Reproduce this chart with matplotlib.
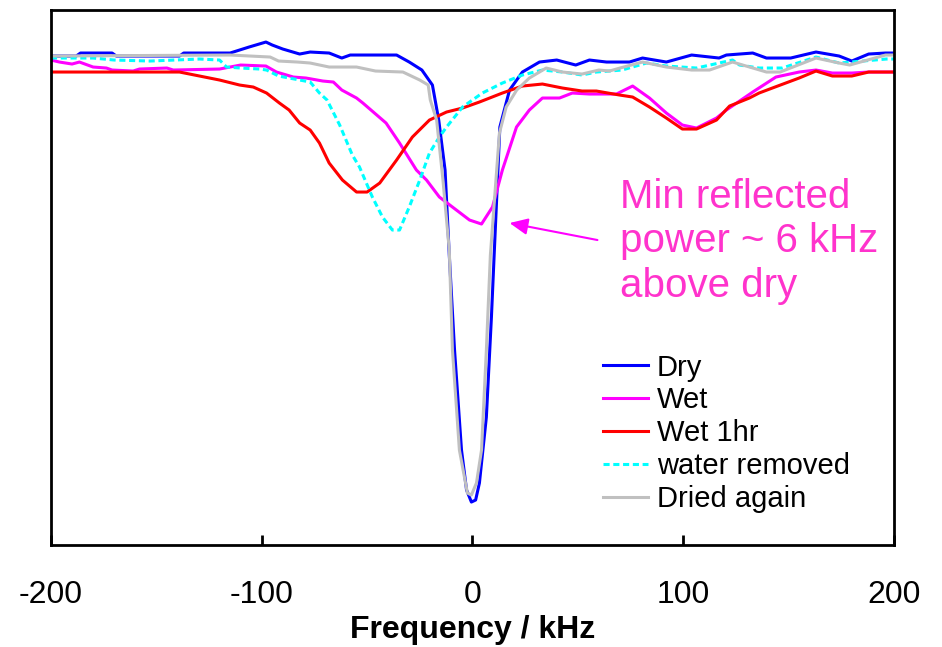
import matplotlib
matplotlib.use("Agg")
import matplotlib.pyplot as plt

plt.rcParams['font.family'] = ['Liberation Sans', 'DejaVu Sans']
plt.rcParams['axes.unicode_minus'] = False

# relative reflected power (arb. units) vs frequency offset (kHz)
dry_f = [-200, -188, -186, -171, -169, -139, -137, -115, -106, -98, -95, -90, -82, -77, -68, -62,
         -58, -36, -30, -24, -19, -16, -13, -11, -8.5, -5.2, -2.8, -0.5, 1.5, 3.3, 6.6, 9, 10.4,
         13, 17.6, 23.7, 31.8, 40, 49, 55.5, 63.6, 70, 74.5, 80.7, 92, 104, 117, 120.5, 133,
         139.5, 151, 163, 174, 180, 188, 196, 200]
dry = [48.9, 48.9, 49.2, 49.2, 48.9, 48.9, 49.2, 49.2, 49.8, 50.3, 50.0, 49.6, 49.1, 49.3, 49.2, 48.7,
       49.0, 49.0, 48.3, 47.5, 46.0, 42.5, 37.5, 29.0, 19.5, 9.5, 5.5, 4.3, 4.5, 6.2, 12.8, 22.8, 29.5,
       41.8, 45.5, 47.3, 48.3, 48.5, 48.0, 48.5, 48.3, 48.3, 48.3, 48.7, 48.3, 49.0, 48.7, 49.0, 49.2,
       48.7, 48.7, 49.3, 48.9, 48.4, 49.1, 49.2, 49.2]

wet_f = [-200, -196, -190, -186.5, -180, -173.7, -171, -161, -158, -145, -142, -120, -110, -98, -93,
         -85, -79, -71, -66, -62, -55, -52, -41, -34.6, -26.6, -21.8, -15.7, -9.5, -1.4, 4.3, 9.5,
         14.2, 20.9, 27, 33.2, 41.3, 47.4, 55.5, 68.3, 76, 84, 92, 99.6, 106.3, 115.8, 120.5, 133,
         144, 155, 163, 170.8, 180, 188, 200]
wet = [48.5, 48.3, 48.1, 48.3, 47.8, 47.7, 47.5, 47.4, 47.6, 47.7, 47.5, 47.6, 48.0, 47.9, 47.3,
       46.8, 46.7, 46.4, 46.3, 45.5, 44.7, 44.2, 42.2, 40.2, 37.5, 36.5, 34.8, 33.8, 32.5, 32.1, 33.8,
       37.5, 41.8, 43.5, 44.7, 44.7, 45.2, 45.1, 45.1, 45.9, 44.7, 43.2, 42.0, 41.7, 42.7, 43.5, 45.3,
       46.8, 47.3, 47.5, 47.2, 47.2, 47.3, 47.3]

wet1_f = [-200, -139, -129.5, -120, -110.5, -104, -97.7, -91.6, -87, -82, -77, -72.6, -68, -61.7,
          -55, -50, -44, -36, -28.5, -20.4, -12.3, -4.7, 3.3, 14.2, 23.7, 33.2, 42.7, 52, 58.8,
          69.8, 76, 84, 92, 99.6, 106.3, 115.8, 122, 131.4, 136, 142.3, 155, 163, 170.8, 180, 188, 200]
wet1 = [47.3, 47.3, 46.9, 46.5, 46.0, 45.8, 45.2, 44.2, 43.5, 42.2, 41.5, 40.2, 38.2, 36.5,
        35.3, 35.3, 36.2, 38.5, 40.8, 42.5, 43.3, 43.7, 44.3, 45.2, 45.9, 46.1, 45.7, 45.4, 45.4,
        45.0, 44.8, 43.8, 42.7, 41.6, 41.6, 42.5, 43.9, 44.7, 45.2, 45.7, 46.7, 47.4, 46.9, 46.9, 47.3, 47.3]

removed_f = [-200, -180, -170, -153, -129.5, -120, -116.7, -110, -101, -97.7, -92, -82, -77, -72.6,
             -69, -63, -60, -57, -53.6, -47.5, -42.7, -38, -34.6, -30, -25, -20.4, -15.7, -12.3,
             -4.7, 4.7, 14.2, 23.7, 33.2, 42.7, 52, 58.8, 71, 82.6, 92, 106.3, 123.4, 126.7, 136,
             147, 163, 174, 196.4, 200]
removed = [48.7, 48.7, 48.5, 48.4, 48.6, 48.5, 47.8, 47.7, 47.6, 47.5, 46.9, 46.5, 46.3, 45.2,
           44.5, 42.0, 40.5, 39.0, 37.8, 34.8, 32.8, 31.5, 31.5, 33.8, 36.5, 39.2, 40.8, 41.8,
           43.8, 45.2, 46.2, 47.0, 47.5, 47.3, 47.0, 47.3, 47.5, 48.2, 47.9, 47.7, 48.5, 48.0, 47.7,
           47.7, 48.8, 48.2, 48.6, 48.6]

dried_f = [-200, -115, -96, -92, -83, -77, -68, -55, -46, -33, -25, -21, -20, -17, -14, -11,
           -9.5, -6.2, -2.4, -0.5, 1.9, 4.3, 6.6, 8.5, 12.8, 16, 21, 27, 35, 42.7, 52, 60, 65, 70,
           80.7, 92, 104, 112.5, 123.4, 139.5, 146, 163, 174, 179, 196, 200]
dried = [48.9, 49.0, 48.8, 48.4, 48.3, 48.2, 47.8, 47.8, 47.4, 47.3, 46.5, 46.0, 44.5, 42.5, 36.5,
         29.5, 19.5, 9.5, 5.2, 5.0, 6.2, 9.5, 19.5, 29.0, 41.2, 43.8, 45.5, 46.7, 47.7, 47.3,
         47.1, 47.5, 47.4, 47.7, 48.3, 47.8, 47.5, 47.5, 48.3, 47.3, 47.3, 48.7, 48.2, 48.0, 49.0, 49.0]

fig = plt.figure(figsize=(9.42, 6.47), dpi=100)
ax = fig.add_axes([0.0541, 0.1576, 0.8949, 0.8269])

lw = 2.2
ax.plot(dry_f, dry, color='#0000FF', lw=lw, label='Dry')
ax.plot(wet_f, wet, color='#FF00FF', lw=lw, label='Wet')
ax.plot(wet1_f, wet1, color='#FF0000', lw=lw, label='Wet 1hr')
ax.plot(removed_f, removed, color='#00FFFF', lw=lw, ls=(0, (2, 1.2)), label='water removed')
ax.plot(dried_f, dried, color='#C0C0C0', lw=lw, label='Dried again')

ax.set_xlim(-200, 200)
ax.set_ylim(0, 53.5)
ax.set_xticks([-200, -100, 0, 100, 200])
ax.set_yticks([])
ax.tick_params(axis='x', direction='in', length=7, width=2, labelsize=23, pad=25)
for s in ax.spines.values():
    s.set_linewidth(2)
ax.set_xlabel('Frequency / kHz', fontsize=23, fontweight='bold', labelpad=4)

ax.legend(loc='upper left', bbox_to_anchor=(0.655, 0.358), frameon=False, fontsize=21,
          handlelength=1.55, handletextpad=0.3, labelspacing=0.165, borderpad=0, borderaxespad=0)

ax.text(70.2, 24.8, 'Min reflected\npower ~ 6 kHz\nabove dry', color='#FF33CC', fontsize=29,
        va='baseline', ha='left', linespacing=1.22)
ax.annotate('', xy=(17.6, 32.2), xytext=(59.3, 30.5),
            arrowprops=dict(arrowstyle='-|>,head_length=0.55,head_width=0.25', color='#FF00FF',
                            lw=1.5, mutation_scale=20, shrinkA=0, shrinkB=0))

fig.savefig('out.png', dpi=100)
